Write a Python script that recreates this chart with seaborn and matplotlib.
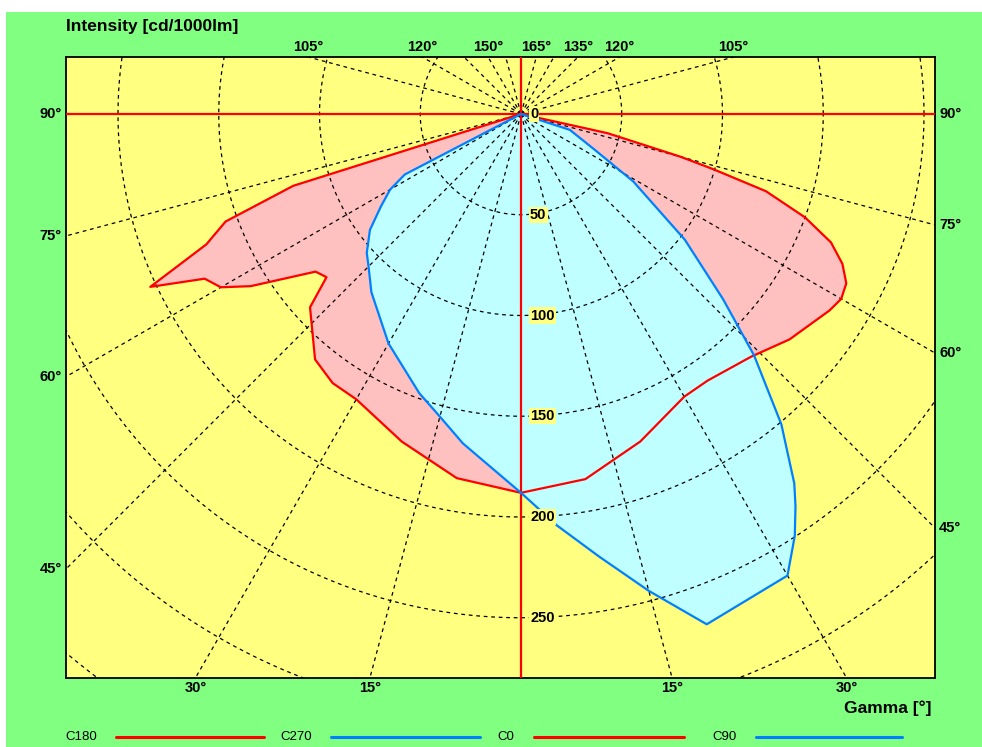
import numpy as np
import matplotlib
matplotlib.use("Agg")
import matplotlib.pyplot as plt
from matplotlib.lines import Line2D
from matplotlib.patches import Rectangle
import seaborn as sns

# luminous intensity [cd/1000lm] per C-plane, gamma in degrees
c180_gamma = [0, 10, 20, 30, 35, 40, 47.5, 50, 52.5, 57.5, 60, 62.5, 65, 67.5, 70, 72.5, 90]
c180_int = [188, 183.5, 173, 163.5, 163, 159, 142, 126, 128.5, 159, 172, 177, 203, 169, 156, 118.5, 0]

c0_gamma = [0, 10, 20, 30, 35, 43.5, 50, 57.5, 60, 62.5, 65, 67.5, 70, 72.5, 74, 75, 77.5, 90]
c0_int = [188, 184, 173, 162, 161.5, 166, 174, 181.5, 183.5, 182, 176, 166.5, 150, 127.5, 99, 82, 44, 0]

c270_gamma = [0, 10, 15, 20, 30, 40, 45, 48, 52.5, 56.5, 60, 62.5, 90]
c270_int = [188, 166, 155.5, 147.5, 131.5, 115.5, 107, 103, 94.5, 83.5, 75, 65, 0]

c90_gamma = [0, 5, 10, 15, 20, 30, 33, 35, 36.5, 40, 44, 47.5, 52.5, 59, 64, 72, 90]
c90_int = [188, 205, 223, 245, 269.5, 264.5, 249.5, 237.5, 228, 201, 166.5, 136, 102.5, 65, 41, 25.5, 0]

circle_values = [50, 100, 150, 200, 250, 300, 350]
circle_labels = [0, 50, 100, 150, 200, 250]
left_ticks = [90, 75, 60, 45]
right_ticks = [90, 75, 60, 45]
bottom_ticks = [30, 15]
top_left_ticks = [105, 120, 150]
top_right_ticks = [165, 135, 120, 105]

RED = "#FF0000"
BLUE = "#0080FF"
PINK = "#FFC0C0"
CYAN = "#C0FFFF"
YELLOW = "#FFFF80"
GREEN = "#80FF80"


def to_xy(gamma, inten, side):
    g = np.radians(np.asarray(gamma, dtype=float))
    r = np.asarray(inten, dtype=float)
    return side * r * np.sin(g), -r * np.cos(g)


sns.set_style("white")
plt.rcParams['font.family'] = ['Liberation Sans', 'DejaVu Sans']
plt.rcParams['text.color'] = 'black'

W, H = 982, 747
fig = plt.figure(figsize=(W / 100, H / 100), dpi=100, facecolor="white")
fig.patches.append(Rectangle((6 / W, 0), 1 - 6 / W, 1 - 12 / H, transform=fig.transFigure,
                             facecolor=GREEN, edgecolor="none", zorder=-10))

# frame in pixels and origin of the diagram
left, right, top, bottom = 66, 935, 57, 678
ox, oy, scale = 521, 114, 2.015
ax = fig.add_axes([left / W, 1 - bottom / H, (right - left) / W, (bottom - top) / H])
ax.set_facecolor(YELLOW)
xmin, xmax = (left - ox) / scale, (right - ox) / scale
ymin, ymax = (oy - bottom) / scale, (oy - top) / scale
ax.set_xlim(xmin, xmax)
ax.set_ylim(ymin, ymax)
ax.set_xticks([])
ax.set_yticks([])
for s in ax.spines.values():
    s.set_color("black")
    s.set_linewidth(1.3)

# fills
xl, yl = to_xy(c180_gamma, c180_int, -1)
xr, yr = to_xy(c0_gamma, c0_int, 1)
ax.fill(np.concatenate([xl[::-1], xr]), np.concatenate([yl[::-1], yr]), color=PINK, lw=0, zorder=1)
bl, byl = to_xy(c270_gamma, c270_int, -1)
br, byr = to_xy(c90_gamma, c90_int, 1)
ax.fill(np.concatenate([bl[::-1], br]), np.concatenate([byl[::-1], byr]), color=CYAN, lw=0, zorder=2)

# polar grid
grid_kw = dict(color="black", lw=0.9, dashes=(3, 3), zorder=3)
t = np.linspace(0, 2 * np.pi, 720)
for r in circle_values:
    ax.plot(r * np.cos(t), r * np.sin(t), **grid_kw)
for g in range(15, 180, 15):
    if g == 90:
        continue
    for side in (-1, 1):
        gx, gy = to_xy([g, g], [0, 600], side)
        ax.plot(gx, gy, **grid_kw)

ax.axhline(0, color=RED, lw=1.6, zorder=4)
ax.axvline(0, color=RED, lw=1.6, zorder=4)

# curves
for gam, inten, side, col in [(c180_gamma, c180_int, -1, RED), (c0_gamma, c0_int, 1, RED),
                              (c270_gamma, c270_int, -1, BLUE), (c90_gamma, c90_int, 1, BLUE)]:
    cx, cy = to_xy(gam, inten, side)
    sns.lineplot(x=cx, y=cy, sort=False, estimator=None, color=col, linewidth=1.6,
                 ax=ax, zorder=5 if col == RED else 6)

# intensity labels
for v in circle_labels:
    ax.text(4.5, -v, str(v), ha="left", va="center", fontsize=10.5, fontweight="bold", zorder=8,
            color="black", bbox=dict(facecolor=YELLOW, edgecolor="none", pad=0.8))

# angle labels where the rays meet the frame
lab_kw = dict(fontsize=10.5, fontweight="bold", color="black", textcoords="offset points",
              annotation_clip=False)
for g in left_ticks:
    y = xmin / np.tan(np.radians(g))
    ax.annotate(f"{g}°", (xmin, y), xytext=(-3, 0), ha="right", va="center", **lab_kw)
for g in right_ticks:
    y = -xmax / np.tan(np.radians(g))
    ax.annotate(f"{g}°", (xmax, y), xytext=(3, 0), ha="left", va="center", **lab_kw)
for g in bottom_ticks:
    x = -ymin * np.tan(np.radians(g))
    for side in (-1, 1):
        ax.annotate(f"{g}°", (side * x, ymin), xytext=(0, -7.5), ha="center", va="center", **lab_kw)
for g, side in [(g, -1) for g in top_left_ticks] + [(g, 1) for g in top_right_ticks]:
    r = -ymax / np.cos(np.radians(g))
    x = side * r * np.sin(np.radians(g))
    ax.annotate(f"{g}°", (x, ymax), xytext=(0, 7.5), ha="center", va="center", **lab_kw)

fig.text(66 / W, 1 - 27 / H, "Intensity [cd/1000lm]", fontsize=12.5, fontweight="bold",
         color="black", ha="left", va="center")
fig.text(932 / W, 1 - 708 / H, "Gamma [°]", fontsize=12.5, fontweight="bold", color="black",
         ha="right", va="center")

# legend row
legend_items = [("C180", RED, 97, 116, 264), ("C270", BLUE, 312, 331, 480),
                ("C0", RED, 514, 534, 684), ("C90", BLUE, 737, 756, 902)]
ly = 1 - 737 / H
for name, col, tx, x0, x1 in legend_items:
    fig.text(tx / W, ly, name, fontsize=9.5, ha="right", va="center", color="black",
             family=['Liberation Sans Narrow', 'Liberation Sans'])
    fig.add_artist(Line2D([x0 / W, x1 / W], [ly, ly], color=col, lw=2.2, transform=fig.transFigure))

fig.savefig("out.png", dpi=100, facecolor="white")
